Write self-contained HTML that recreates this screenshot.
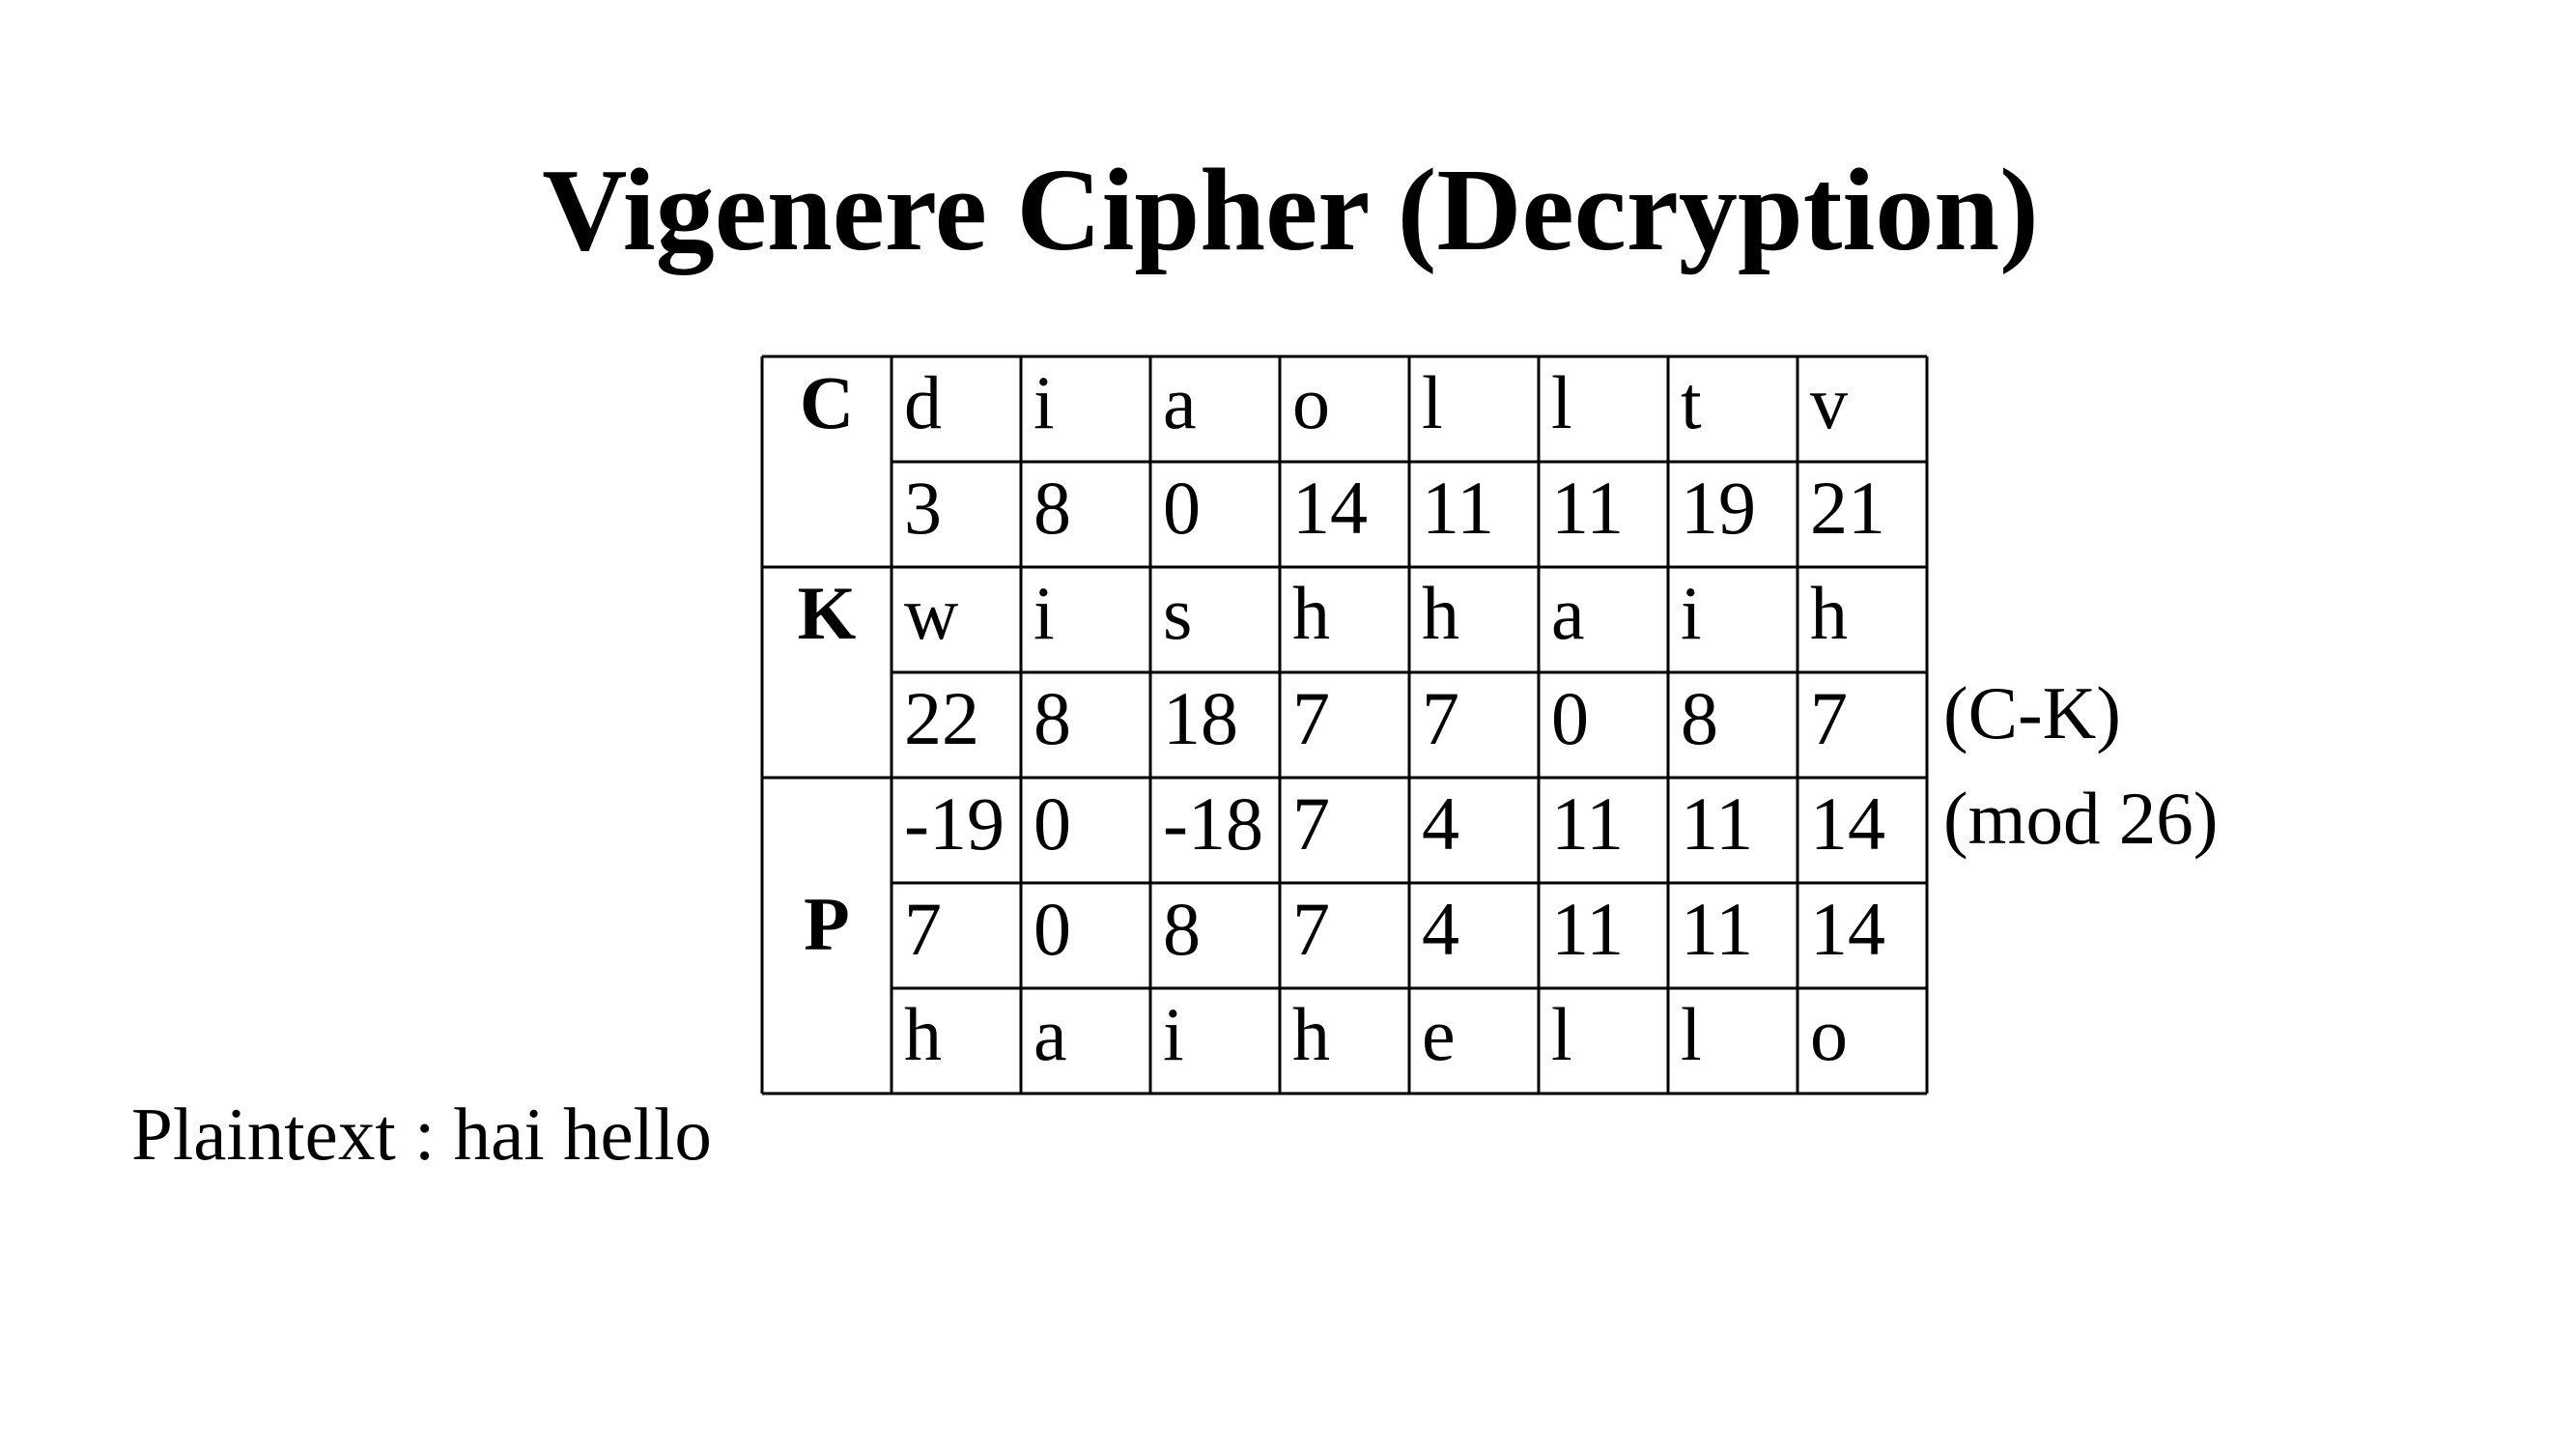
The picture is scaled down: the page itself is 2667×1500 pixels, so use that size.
<!DOCTYPE html>
<html><head><meta charset="utf-8"><style>
body{margin:0;background:#fff;}
svg{display:block;font-family:"Liberation Serif",serif;}
</style></head><body>
<svg width="2667" height="1500" viewBox="0 0 2667 1500">
<text x="1336" y="258" font-size="122" font-weight="bold" text-anchor="middle">Vigenere Cipher (Decryption)</text>
<g id="tbl"></g>
<text x="2012" y="764" font-size="77">(C-K)</text>
<text x="2012" y="873" font-size="77">(mod 26)</text>
<text x="136" y="1200" font-size="77">Plaintext : hai hello</text>
</svg>
<script>
const rows = [
 ["d","i","a","o","l","l","t","v"],
 ["3","8","0","14","11","11","19","21"],
 ["w","i","s","h","h","a","i","h"],
 ["22","8","18","7","7","0","8","7"],
 ["-19","0","-18","7","4","11","11","14"],
 ["7","0","8","7","4","11","11","14"],
 ["h","a","i","h","e","l","l","o"]
];
const labels = [["C",0,1],["K",2,1],["P",4,3]];
const L=789,T=369,CW=134,RH=109;
const g=document.getElementById('tbl');
const NS="http://www.w3.org/2000/svg";
function line(x1,y1,x2,y2){const l=document.createElementNS(NS,'line');
l.setAttribute('x1',x1);l.setAttribute('y1',y1);l.setAttribute('x2',x2);l.setAttribute('y2',y2);
l.setAttribute('stroke','#000');l.setAttribute('stroke-width','3');


g.appendChild(l);}
for(let c=0;c<=9;c++) line(L+c*CW,T,L+c*CW,T+7*RH);
for(let r=0;r<=7;r++){ const full=(r===0||r===2||r===4||r===7); line(full?L:L+CW,T+r*RH,L+9*CW,T+r*RH);}
rows.forEach((row,r)=>row.forEach((v,c)=>{
 const t=document.createElementNS(NS,'text');
 t.setAttribute('x',L+(c+1)*CW+13);t.setAttribute('y',T+r*RH+74);
 t.setAttribute('font-size','78');t.textContent=v;
 
 
 g.appendChild(t);}));
labels.forEach(([s,r,span])=>{
 const t=document.createElementNS(NS,'text');
 const y = span===1 ? T+r*RH+74 : T+(r+span/2)*RH+14;
 t.setAttribute('x',L+CW/2);t.setAttribute('y',y);t.setAttribute('text-anchor','middle');
 t.setAttribute('font-size','78');t.setAttribute('font-weight','bold');t.textContent=s;
 
 
 g.appendChild(t);});
</script>
</body></html>
